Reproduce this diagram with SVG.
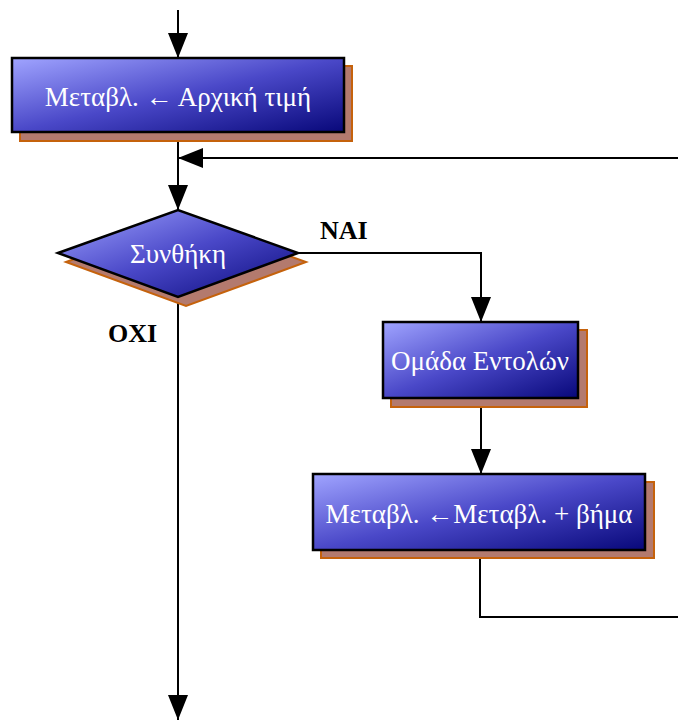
<svg xmlns="http://www.w3.org/2000/svg" width="678" height="720" viewBox="0 0 678 720">
<defs>
<linearGradient id="g" x1="0" y1="0" x2="1" y2="1">
<stop offset="0" stop-color="#a0a4ff"/>
<stop offset="0.5" stop-color="#4a48c8"/>
<stop offset="1" stop-color="#08087a"/>
</linearGradient>
<marker id="ah" markerWidth="25" markerHeight="20" refX="25" refY="10" viewBox="0 0 25 20" orient="auto" markerUnits="userSpaceOnUse">
<path d="M0,0 L25,10 L0,20 Z" fill="#000"/>
</marker>
</defs>
<style>
.sh{fill:#b37a6e;stroke:#c5620c;stroke-width:2}
.nd{fill:url(#g);stroke:#000;stroke-width:2.5}
.t{font-family:"Liberation Serif","DejaVu Serif",serif;font-size:27px;fill:#fff;text-anchor:middle}
.lb{font-family:"Liberation Serif","DejaVu Serif",serif;font-size:26px;font-weight:bold;fill:#000}
.c{fill:none;stroke:#000;stroke-width:2}
</style>
<g id="connectors">
<line class="c" x1="178" y1="10" x2="178" y2="58" marker-end="url(#ah)"/>
<line class="c" x1="178" y1="132" x2="178" y2="210" marker-end="url(#ah)"/>
<line class="c" x1="678" y1="158" x2="178" y2="158" marker-end="url(#ah)"/>
<polyline class="c" points="298,253 481,253 481,322" marker-end="url(#ah)"/>
<line class="c" x1="481" y1="398" x2="481" y2="474" marker-end="url(#ah)"/>
<polyline class="c" points="480,550 480,617 678,617"/>
<line class="c" x1="178" y1="297" x2="178" y2="720" marker-end="url(#ah)"/>
</g>
<g id="init">
<rect class="sh" x="20" y="66" width="332" height="75"/>
<rect class="nd" x="12" y="58" width="332" height="74"/>
<text class="t" x="178" y="106">Μεταβλ. ← Αρχική τιμή</text>
</g>
<g id="cond">
<polygon class="sh" points="66,262 186,219 306,262 186,306"/>
<polygon class="nd" points="58,253 178,210 298,253 178,297" stroke-width="2"/>
<text class="t" x="178" y="263">Συνθήκη</text>
</g>
<g id="labels">
<text class="lb" x="320" y="239">NAI</text>
<text class="lb" x="108" y="342">OXI</text>
</g>
<g id="body">
<rect class="sh" x="391" y="330" width="196" height="77"/>
<rect class="nd" x="383" y="322" width="195" height="76"/>
<text class="t" x="480" y="370">Ομάδα Εντολών</text>
</g>
<g id="step">
<rect class="sh" x="321" y="482" width="333" height="76"/>
<rect class="nd" x="313" y="474" width="332" height="76"/>
<text class="t" x="479" y="523">Μεταβλ. ←Μεταβλ. + βήμα</text>
</g>
</svg>
